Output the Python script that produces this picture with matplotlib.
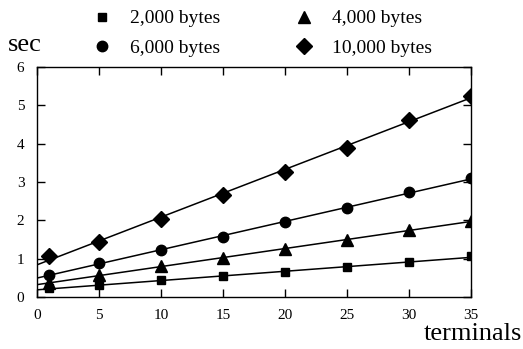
import numpy as np
import matplotlib
matplotlib.use("Agg")
import matplotlib.pyplot as plt

# terminals measured
terminals = [1, 5, 10, 15, 20, 25, 30, 35]

# response time (sec) per message size
sec_2000 = [0.23, 0.30, 0.45, 0.54, 0.64, 0.77, 0.91, 1.07]
sec_4000 = [0.36, 0.58, 0.80, 1.03, 1.24, 1.48, 1.74, 1.99]
sec_6000 = [0.58, 0.90, 1.22, 1.56, 1.95, 2.33, 2.73, 3.10]
sec_10000 = [1.07, 1.44, 2.04, 2.67, 3.27, 3.90, 4.63, 5.25]

series = [
    ("2,000 bytes", sec_2000, "s", 6),
    ("6,000 bytes", sec_6000, "o", 7.5),
    ("4,000 bytes", sec_4000, "^", 8.5),
    ("10,000 bytes", sec_10000, "D", 8),
]

serif = "Liberation Serif"

fig = plt.figure(figsize=(5.23, 3.49), dpi=100)
ax = fig.add_axes([0.0707, 0.149, 0.83, 0.659])

x_fit = np.array([0, 35])
handles = []
for label, vals, mk, ms in series:
    # straight fitted line through the points
    k, b = np.polyfit(terminals, vals, 1)
    ax.plot(x_fit, k * x_fit + b, color="black", lw=1.1)
    h, = ax.plot(terminals, vals, linestyle="none", marker=mk, ms=ms,
                 color="black", label=label)
    handles.append(h)

ax.set_xlim(0, 35)
ax.set_ylim(0, 6)
ax.set_xticks(range(0, 36, 5))
ax.set_yticks(range(0, 7))
ax.tick_params(direction="in", top=True, right=True, length=6, width=1,
               labelsize=11, pad=9)
for t in ax.get_xticklabels() + ax.get_yticklabels():
    t.set_fontfamily(serif)
for s in ax.spines.values():
    s.set_linewidth(1.0)

fig.text(0.015, 0.855, "sec", fontsize=19, family=serif)
fig.text(0.998, 0.025, "terminals", fontsize=19, family=serif, ha="right")

fig.legend(handles=handles, ncol=2, loc="upper left",
           bbox_to_anchor=(0.1765, 0.972), frameon=False,
           prop={"family": serif, "size": 14},
           borderpad=0, borderaxespad=0,
           handlelength=1.0, handletextpad=0.95, columnspacing=3.8,
           labelspacing=0.62)

fig.savefig("out.png", dpi=100)
